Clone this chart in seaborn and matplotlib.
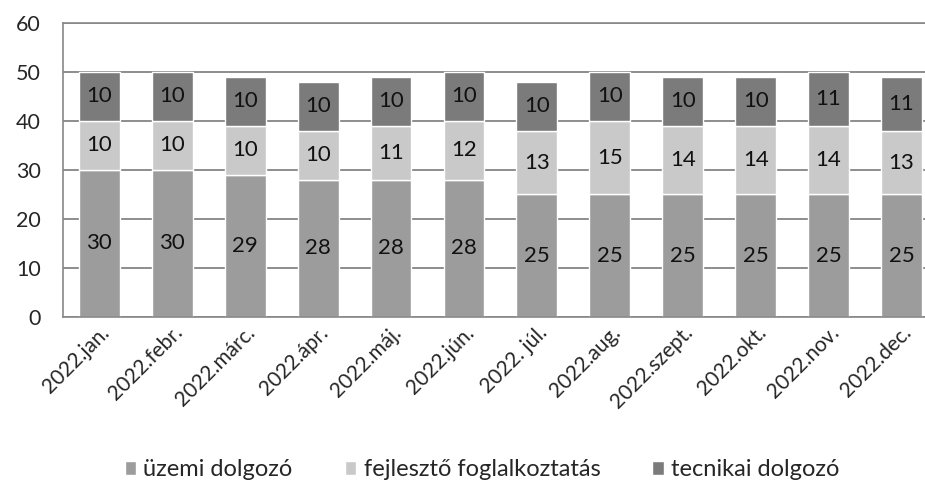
import numpy as np
import pandas as pd
import seaborn as sns
import matplotlib.pyplot as plt

months = ['2022.jan.', '2022.febr.', '2022.márc.', '2022.ápr.', '2022.máj.', '2022.jún.',
          '2022. júl.', '2022.aug.', '2022.szept.', '2022.okt.', '2022.nov.', '2022.dec.']
uzemi = [30, 30, 29, 28, 28, 28, 25, 25, 25, 25, 25, 25]
fejleszto = [10, 10, 10, 10, 11, 12, 13, 15, 14, 14, 14, 13]
tecnikai = [10, 10, 10, 10, 10, 10, 10, 10, 10, 10, 11, 11]

series = ['üzemi dolgozó', 'fejlesztő foglalkoztatás', 'tecnikai dolgozó']
colors = ['#9c9c9c', '#c9c9c9', '#7b7b7b']

df = pd.DataFrame({'month': months, series[0]: uzemi, series[1]: fejleszto, series[2]: tecnikai})

sns.set_style('white')
plt.rcParams['font.family'] = ['Lato', 'DejaVu Sans']

fig, ax = plt.subplots(figsize=(9.25, 4.99), dpi=100)
# plot area runs a bit past the right edge, as in the cropped scan
fig.subplots_adjust(left=0.068, right=1.014, top=0.954, bottom=0.365)

bottom = np.zeros(len(months))
for name, col in zip(series, colors):
    sns.barplot(data=df, x='month', y=name, color=col, width=0.56, bottom=bottom,
                ax=ax, label=name, zorder=2)
    bottom += df[name].values

for cont in ax.containers:
    ax.bar_label(cont, label_type='center', fontsize=16, color='#111111')

ax.set_ylim(0, 60)
ax.set_yticks(range(0, 61, 10))
ax.yaxis.grid(True, color='#7a7a7a', linewidth=1.2, zorder=0)
ax.set_axisbelow(True)
for s in ax.spines.values():
    s.set_color('#888888')
    s.set_linewidth(1.2)
ax.set_xlabel('')
ax.set_ylabel('')
ax.tick_params(axis='y', labelsize=15.5, length=0, pad=16)
ax.tick_params(axis='x', labelsize=15, length=0, pad=4)
plt.setp(ax.get_xticklabels(), rotation=45, ha='right', rotation_mode='anchor')

ax.legend(loc='center', bbox_to_anchor=(0.479, -0.52), ncol=3, frameon=False,
          fontsize=17, handlelength=0.5, handleheight=0.5, columnspacing=2.2,
          handletextpad=0.3)

fig.savefig('out.png')
